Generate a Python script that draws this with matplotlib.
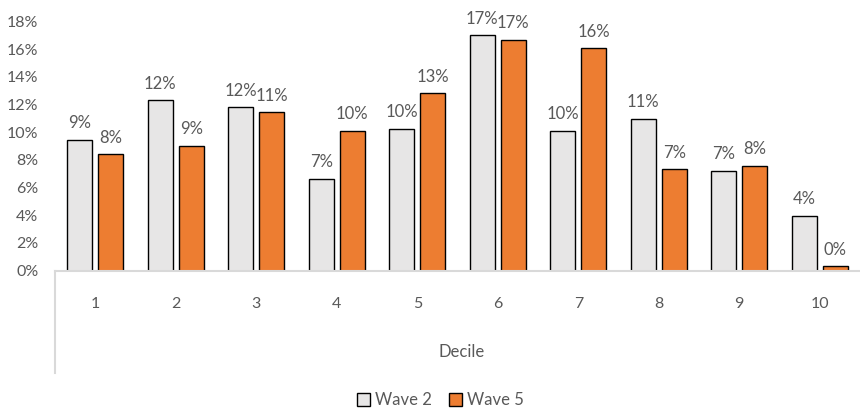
import matplotlib
matplotlib.use("Agg")
import matplotlib.pyplot as plt
from matplotlib.lines import Line2D
from matplotlib.patches import Patch
import numpy as np

plt.rcParams['font.family'] = ['Lato', 'DejaVu Sans']

deciles = ["1", "2", "3", "4", "5", "6", "7", "8", "9", "10"]
wave2 = [9.45, 12.33, 11.80, 6.63, 10.25, 17.03, 10.12, 10.98, 7.23, 3.97]
wave5 = [8.42, 9.03, 11.44, 10.12, 12.83, 16.68, 16.06, 7.32, 7.57, 0.32]
yticks = [0, 2, 4, 6, 8, 10, 12, 14, 16, 18]

text_col = "#595959"
axis_col = "#D9D9D9"
col2 = "#E7E6E6"
col5 = "#ED7D31"

fig = plt.figure(figsize=(8.6, 4.11), dpi=100)
ax = fig.add_axes([0.064, 0.3418, 0.936, 0.6058])

x = np.arange(len(deciles))
w = 0.31
off = 0.193
b2 = ax.bar(x - off, wave2, w, color=col2, edgecolor="black", linewidth=1.0, label="Wave 2")
b5 = ax.bar(x + off, wave5, w, color=col5, edgecolor="black", linewidth=1.0, label="Wave 5")

for bars, vals in ((b2, wave2), (b5, wave5)):
    for bar, v in zip(bars, vals):
        ax.annotate(f"{round(v):.0f}%", (bar.get_x() + bar.get_width() / 2, v),
                    xytext=(0, 6), textcoords="offset points",
                    ha="center", va="bottom", fontsize=12, color=text_col)

ax.set_xlim(-0.5, len(deciles) - 0.5)
ax.set_ylim(0, 18)
ax.set_yticks(yticks)
ax.set_yticklabels([f"{t}%" for t in yticks])
ax.set_xticks(x)
ax.set_xticklabels(deciles)
ax.tick_params(axis="y", length=0, pad=12, labelsize=11.5, labelcolor=text_col)
ax.tick_params(axis="x", length=0, pad=19, labelsize=11.5, labelcolor=text_col)

for side in ("top", "right", "left"):
    ax.spines[side].set_visible(False)
ax.spines["bottom"].set_color(axis_col)
ax.spines["bottom"].set_linewidth(1.5)

# second-level category divider
fig.add_artist(Line2D([0.064, 0.064], [0.3418, 0.0925], transform=fig.transFigure,
                      color=axis_col, linewidth=1.5))

fig.text(0.537, 1 - 352 / 411, "Decile", ha="center", va="center",
         fontsize=12, color=text_col)

handles = [Patch(facecolor=col2, edgecolor="black", linewidth=1.0),
           Patch(facecolor=col5, edgecolor="black", linewidth=1.0)]
fig.legend(handles, ["Wave 2", "Wave 5"], loc="center", bbox_to_anchor=(0.512, 1 - 400 / 411),
           ncol=2, frameon=False, fontsize=12, labelcolor=text_col,
           handlelength=0.8, handleheight=0.8, handletextpad=0.3, columnspacing=1.0)

fig.savefig("out.png", dpi=100)
